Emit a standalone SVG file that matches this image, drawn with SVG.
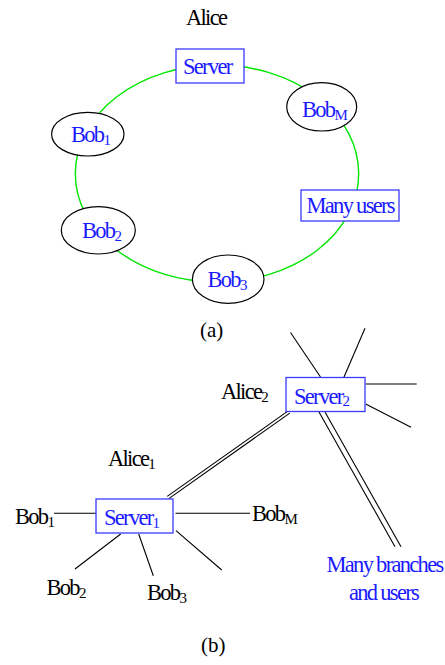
<svg xmlns="http://www.w3.org/2000/svg" width="445" height="665" viewBox="0 0 445 665">
<style>
text{font-family:"Liberation Serif","Times New Roman",serif;font-size:22.5px;letter-spacing:-1.7px}
.b{fill:#1a1aff}
.k{fill:#000}
.lab{letter-spacing:0;font-size:21px}
.box{fill:#fff;stroke:#3a3aff;stroke-width:1.3}
.ell{fill:#fff;stroke:#000;stroke-width:1.2}
.ring{fill:none;stroke:#00e600;stroke-width:1.4}
.ln{stroke:#000;stroke-width:1.1;fill:none}
.sub{font-size:15px;letter-spacing:-0.5px}
</style>
<g id="connectors">
<ellipse class="ring" cx="217" cy="173.5" rx="141.7" ry="108.5"/>
<line class="ln" x1="167.2" y1="496.4" x2="288.2" y2="410.9"/>
<line class="ln" x1="168.8" y1="498.6" x2="289.8" y2="413.1"/>
<line class="ln" x1="319" y1="412" x2="395" y2="546.7"/>
<line class="ln" x1="325" y1="412" x2="401" y2="546.7"/>
<line class="ln" x1="54" y1="513.3" x2="96" y2="513.3"/>
<line class="ln" x1="175.5" y1="513.3" x2="250" y2="513.3"/>
<line class="ln" x1="120.7" y1="534" x2="75" y2="569"/>
<line class="ln" x1="138.7" y1="534" x2="153.3" y2="575.7"/>
<line class="ln" x1="176" y1="530.7" x2="221.7" y2="570"/>
<line class="ln" x1="290.5" y1="332.5" x2="320.5" y2="377"/>
<line class="ln" x1="365" y1="328.3" x2="344" y2="377"/>
<line class="ln" x1="365.7" y1="384" x2="416.7" y2="384"/>
<line class="ln" x1="365.7" y1="404" x2="411" y2="427.3"/>
</g>
<g id="alice-a"><text class="k" x="186" y="25">Alice</text></g>
<g id="server-a"><rect class="box" x="176" y="49" width="68" height="34"/><text class="b" x="183" y="74">Server</text></g>
<g id="bobM-a"><ellipse class="ell" cx="321.7" cy="106.8" rx="35" ry="24.2"/><text class="b" x="302" y="117">Bob<tspan class="sub" dy="2.5">M</tspan></text></g>
<g id="bob1-a"><ellipse class="ell" cx="87.8" cy="134.2" rx="36.2" ry="21.8"/><text class="b" x="71" y="142">Bob<tspan class="sub" dy="2.5">1</tspan></text></g>
<g id="manyusers-a"><rect class="box" x="301" y="190" width="98" height="31"/><text class="b" x="306.5" y="213">Many users</text></g>
<g id="bob2-a"><ellipse class="ell" cx="98.3" cy="230.3" rx="37" ry="23.7"/><text class="b" x="82" y="238">Bob<tspan class="sub" dy="2.5">2</tspan></text></g>
<g id="bob3-a"><ellipse class="ell" cx="228.2" cy="279.2" rx="35.8" ry="24.2"/><text class="b" x="207.5" y="287">Bob<tspan class="sub" dy="2.5">3</tspan></text></g>
<g id="label-a"><text class="k lab" x="200" y="337">(a)</text></g>
<g id="server2"><rect class="box" x="286" y="377.5" width="79" height="34"/><text class="b" x="294" y="403.5">Server<tspan class="sub" dy="2.5">2</tspan></text></g>
<g id="alice2"><text class="k" x="221" y="399">Alice<tspan class="sub" dy="2.5">2</tspan></text></g>
<g id="alice1"><text class="k" x="108" y="466">Alice<tspan class="sub" dy="2.5">1</tspan></text></g>
<g id="server1"><rect class="box" x="96" y="499" width="77" height="34"/><text class="b" x="104" y="525">Server<tspan class="sub" dy="2.5">1</tspan></text></g>
<g id="bob1-b"><text class="k" x="15" y="524">Bob<tspan class="sub" dy="2.5">1</tspan></text></g>
<g id="bobM-b"><text class="k" x="252" y="521">Bob<tspan class="sub" dy="2.5">M</tspan></text></g>
<g id="bob2-b"><text class="k" x="46.5" y="595">Bob<tspan class="sub" dy="2.5">2</tspan></text></g>
<g id="bob3-b"><text class="k" x="147" y="600">Bob<tspan class="sub" dy="2.5">3</tspan></text></g>
<g id="branches"><text class="b" x="326.5" y="571.5">Many branches</text><text class="b" x="349" y="600">and users</text></g>
<g id="label-b"><text class="k lab" x="201" y="652">(b)</text></g>
</svg>
